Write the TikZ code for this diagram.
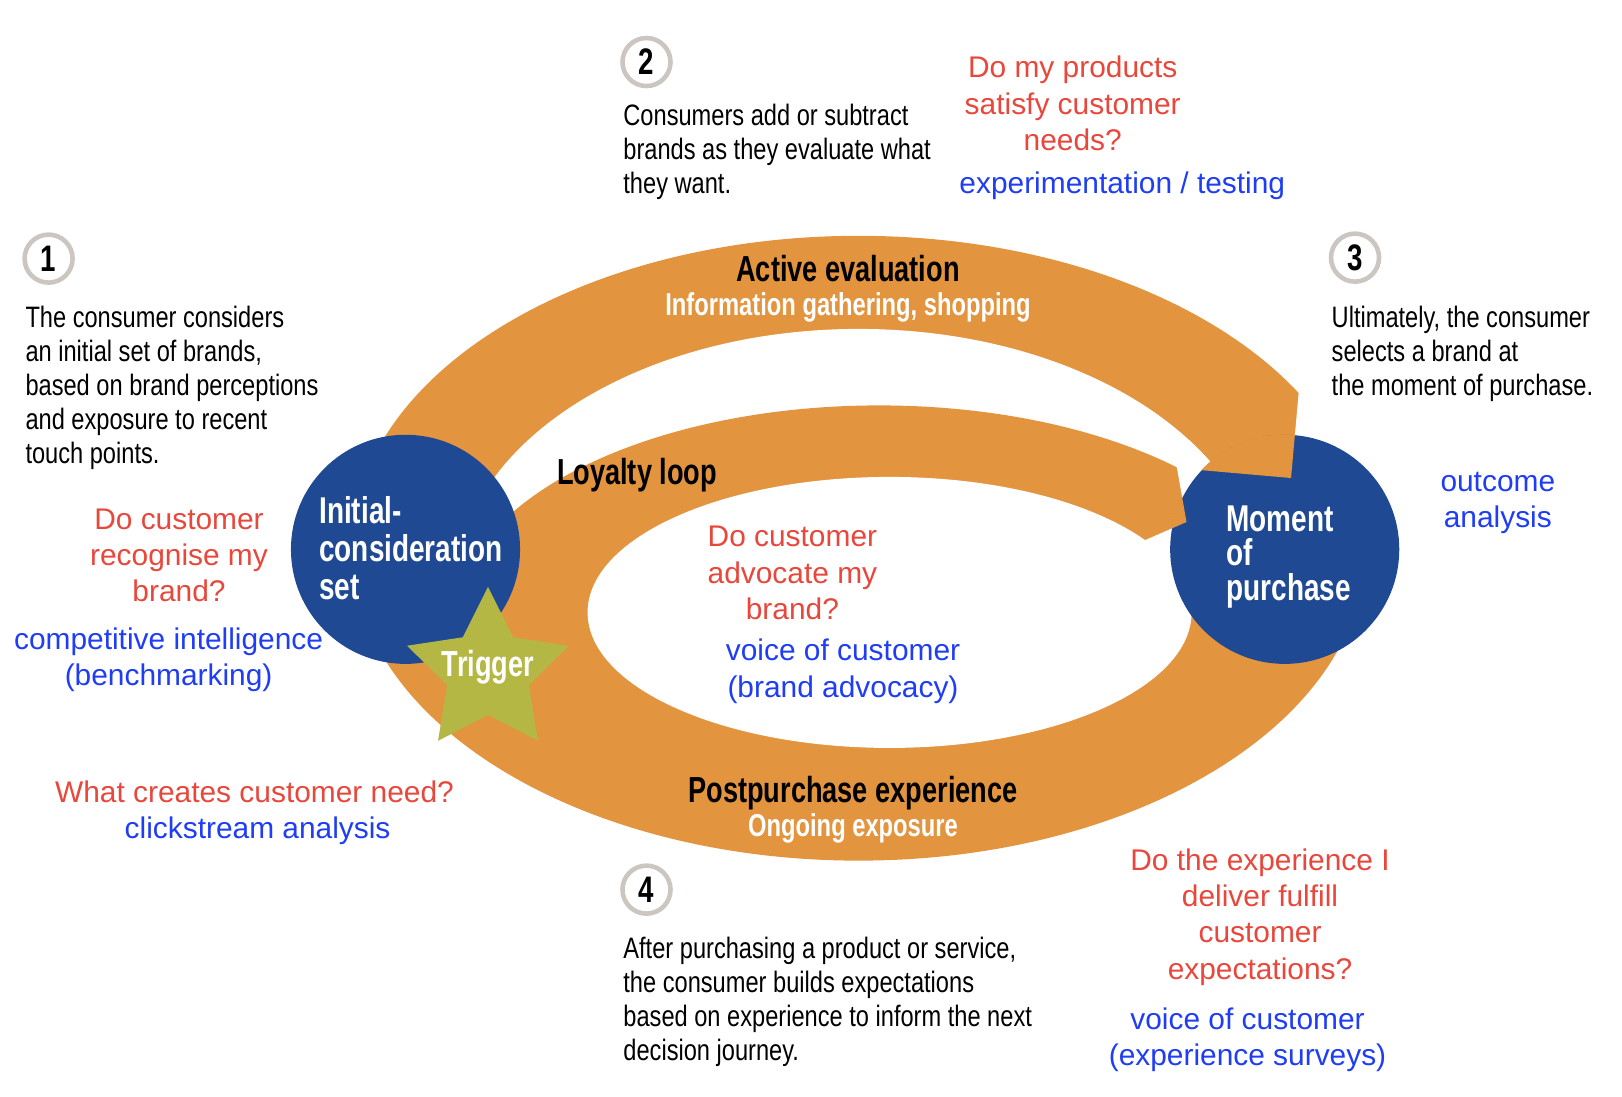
\documentclass[tikz,border=0pt]{standalone}
\usepackage{fontspec}
\setmainfont{Liberation Sans}
\newfontfamily\narrowfont[FakeStretch=0.8]{Liberation Sans}
\newfontfamily\narrowbold[FakeStretch=0.75]{Liberation Sans}
\usetikzlibrary{shapes.geometric}

\definecolor{bandorange}{HTML}{E3943F}
\definecolor{stageblue}{HTML}{1F4A93}
\definecolor{starolive}{HTML}{B4B744}
\definecolor{askred}{HTML}{E8473C}
\definecolor{toolblue}{HTML}{1F3DF5}
\definecolor{ringgray}{HTML}{CCC6C0}

\tikzset{
	stepnum/.style={circle, draw=ringgray, line width=1.3pt, fill=white, minimum size=0.48cm, inner sep=0pt, font=\narrowbold\bfseries\fontsize{10.5}{12}\selectfont},
	story/.style={anchor=west, align=left, inner sep=0pt, yshift=-0.03cm, font=\narrowfont\fontsize{8.4}{9.65}\selectfont},
	ask/.style={align=center, inner sep=0pt, yshift=-0.01cm, text=askred, font=\fontsize{8.5}{10.3}\selectfont},
	tool/.style={align=center, inner sep=0pt, yshift=-0.035cm, text=toolblue, font=\fontsize{8.5}{10.3}\selectfont},
	stage/.style={circle, fill=stageblue, minimum size=2.29cm, inner sep=0pt},
	stagetext/.style={anchor=west, align=left, inner sep=0pt, text=white, font=\narrowbold\bfseries\fontsize{10.6}{10.9}\selectfont},
	phase/.style={inner sep=0pt, font=\narrowbold\bfseries\fontsize{10.3}{12}\selectfont},
	phasesub/.style={inner sep=0pt, yshift=-0.03cm, text=white, font=\narrowbold\bfseries\fontsize{9}{11}\selectfont}
}

\begin{document}
\begin{tikzpicture}[x=0.01cm, y=-0.01cm]
	%%%%% START %%%%%
	\useasboundingbox (0,0) rectangle (1622,1096);
	
	% orange loop
	\fill[bandorange] (858.6,548.2) ellipse [x radius=506.9, y radius=312.4];
	\begin{scope}
		\clip (0,0) rectangle (1622,549);
		\fill[white] (858.6,589.6) ellipse [x radius=403.4, y radius=260.7];
	\end{scope}
	\fill[bandorange] (879.2,620.6) ellipse [x radius=424.1, y radius=215.2];
	\fill[white] (889.6,612.4) ellipse [x radius=302, y radius=135.5];
	
	% cut ends
	\fill[white] (1301.6,360) -- (1420,360) -- (1420,549) -- (1284.6,549) -- cycle;
	\begin{scope}
		\clip (858.6,589.6) ellipse [x radius=403.4, y radius=260.7];
		\fill[white] (1172,440) -- (1186.5,522) -- (1143,541) -- (1143,580) -- (1260,580) -- (1260,440) -- cycle;
	\end{scope}
	
	\node[stage] (ics) at (405.5,549.3) {};
	\node[stage] (mop) at (1284.7,549.3) {};
	
	\begin{scope}
		\clip (1284.7,549.3) circle [radius=115];
		\fill[bandorange] (1150,380) -- (1299.8,380) -- (1291,478) -- (1200,470) -- (1150,466) -- cycle;
		\fill[bandorange] (1172,440) -- (1186.5,522) -- (1143,541) -- (1100,541) -- (1100,440) -- cycle;
	\end{scope}
	
	\node[stagetext] (icstext) at (318.6,548) {Initial-\\consideration\\set};
	\node[stagetext, font=\narrowbold\bfseries\fontsize{10.6}{9.9}\selectfont] (moptext) at (1225.8,557) {Moment\\of\\purchase};
	
	\node[star, star points=5, star point ratio=1.98, minimum size=1.7cm, inner sep=0pt, fill=starolive] (trig) at (488,672) {};
	\node[phase, text=white] (trigtext) at (488,667) {Trigger};
	
	% stage labels
	\node[phase] (active) at (848,269) {Active evaluation};
	\node[phasesub] (activesub) at (848,304) {Information gathering, shopping};
	\node[phase] (loyal) at (637,474.7) {Loyalty loop};
	\node[phase] (post) at (853,793.5) {Postpurchase experience};
	\node[phasesub] (postsub) at (853,825.5) {Ongoing exposure};
	
	% steps
	\node[stepnum] (s1) at (48.6,258.6) {1};
	\node[story] (t1) at (24.8,384.8) {The consumer considers\\an initial set of brands,\\based on brand perceptions\\and exposure to recent\\touch points.};
	\node[stepnum] (s2) at (646.5,62) {2};
	\node[story] (t2) at (622.7,149) {Consumers add or subtract\\brands as they evaluate what\\they want.};
	\node[stepnum] (s3) at (1355,257.6) {3};
	\node[story] (t3) at (1331,350.7) {Ultimately, the consumer\\selects a brand at\\the moment of purchase.};
	\node[stepnum] (s4) at (646.5,889.6) {4};
	\node[story] (t4) at (622.7,998.7) {After purchasing a product or service,\\the consumer builds expectations\\based on experience to inform the next\\decision journey.};
	
	% questions and methods
	\node[ask] (q1) at (179,554.4) {Do customer\\recognise my\\brand?};
	\node[tool] (m1) at (168.6,656.3) {competitive intelligence\\(benchmarking)};
	\node[ask] (q2) at (1072.7,102.4) {Do my products\\satisfy customer\\needs?};
	\node[tool] (m2) at (1122.3,182) {experimentation / testing};
	\node[tool] (m3) at (1497.8,499.1) {outcome\\analysis};
	\node[ask] (q4) at (792.4,572) {Do customer\\advocate my\\brand?};
	\node[tool] (m4) at (843,667.7) {voice of customer\\(brand advocacy)};
	\node[ask] (q5) at (254.5,790.3) {What creates customer need?};
	\node[tool] (m5) at (257.6,827.5) {clickstream analysis};
	\node[ask] (q6) at (1260,916) {Do the experience I\\deliver fulfill\\customer\\expectations?};
	\node[tool] (m6) at (1247.5,1036) {voice of customer\\(experience surveys)};
	%%%%% END %%%%%
\end{tikzpicture}
\end{document}
